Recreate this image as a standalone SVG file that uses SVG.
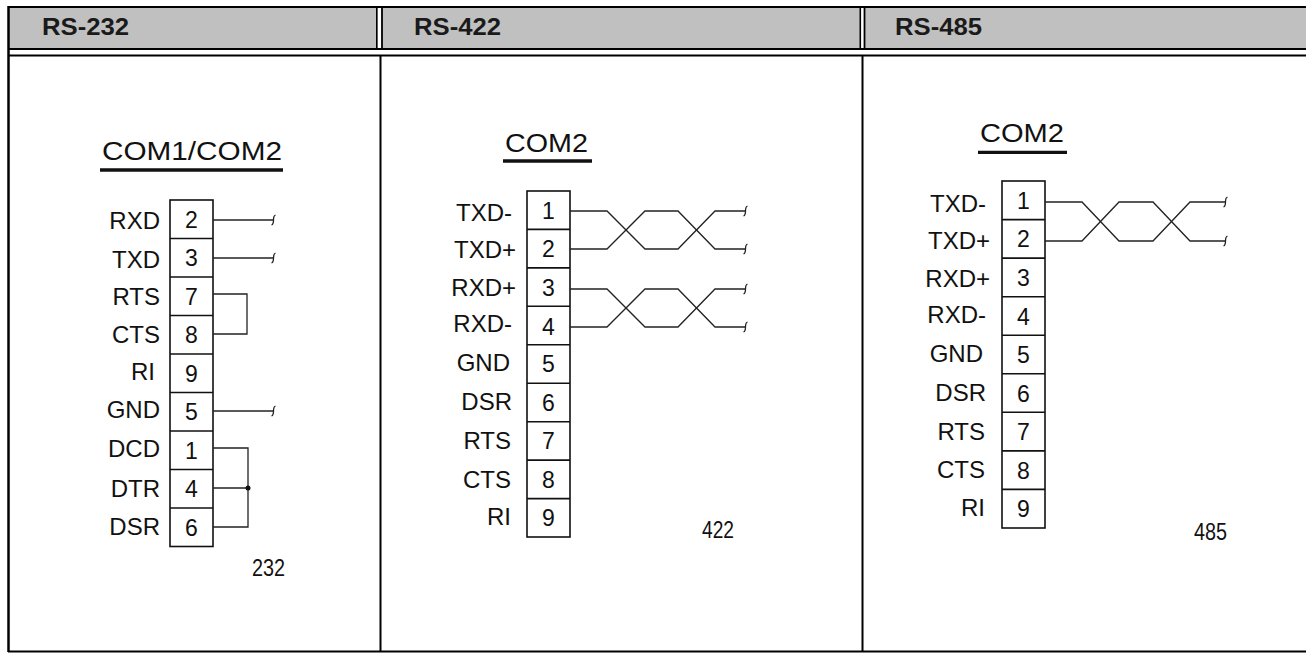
<svg xmlns="http://www.w3.org/2000/svg" xmlns:xlink="http://www.w3.org/1999/xlink" width="1306" height="653" viewBox="0 0 1306 653">
<style>
.hdr{font-family:"Liberation Sans",Arial,sans-serif;font-weight:bold;font-size:24px;fill:#1a1a1a}
.lbl{font-family:"Liberation Sans",Arial,sans-serif;font-size:24px;fill:#111;text-anchor:end}
.num{font-family:"Liberation Sans",Arial,sans-serif;font-size:23px;fill:#111;text-anchor:middle}
.ttl{font-family:"Liberation Sans",Arial,sans-serif;font-size:26px;fill:#111}
.tag{font-family:"Liberation Sans",Arial,sans-serif;font-size:23px;fill:#111}
.frame{stroke:#000;fill:none}
.box{fill:#fff;stroke:#111;stroke-width:1.6}
.sep{stroke:#111;stroke-width:1.6}
.wire{fill:none;stroke:#222;stroke-width:1.3}
.uline{stroke:#111;stroke-width:3.3}
</style>
<defs>
<path id="tick" d="M-1.5,5 C0,4.5 0.5,2 0.5,0 C0.5,-2 1,-4.5 2.5,-5" fill="none" stroke="#222" stroke-width="1.3"/>
</defs>
<rect x="0" y="0" width="1306" height="653" fill="#fff"/>
<g id="table">
<rect x="9" y="8" width="1297" height="40" fill="#c0c0c0"/>
<rect x="377.5" y="8" width="4" height="40" fill="#fff"/>
<rect x="861" y="8" width="3" height="40" fill="#fff"/>
<line class="frame" x1="8" y1="7" x2="1306" y2="7" stroke-width="2"/>
<line class="frame" x1="8.5" y1="6" x2="8.5" y2="652" stroke-width="2.5"/>
<line class="frame" x1="8" y1="49" x2="1306" y2="49" stroke-width="2.2"/>
<line class="frame" x1="8" y1="55.5" x2="1306" y2="55.5" stroke-width="2.2"/>
<line class="frame" x1="376.8" y1="7" x2="376.8" y2="49" stroke-width="1.6"/>
<line class="frame" x1="382" y1="7" x2="382" y2="49" stroke-width="1.8"/>
<line class="frame" x1="860.3" y1="7" x2="860.3" y2="49" stroke-width="1.6"/>
<line class="frame" x1="864.5" y1="7" x2="864.5" y2="49" stroke-width="1.8"/>
<line class="frame" x1="380.5" y1="55" x2="380.5" y2="652" stroke-width="2"/>
<line class="frame" x1="862.5" y1="55" x2="862.5" y2="652" stroke-width="2"/>
<line class="frame" x1="8" y1="651.5" x2="1306" y2="651.5" stroke-width="2"/>
<text class="hdr" x="42" y="35" textLength="87" lengthAdjust="spacingAndGlyphs">RS-232</text>
<text class="hdr" x="414" y="35" textLength="87" lengthAdjust="spacingAndGlyphs">RS-422</text>
<text class="hdr" x="895" y="35" textLength="87" lengthAdjust="spacingAndGlyphs">RS-485</text>
</g>

<g id="rs232">
<text class="ttl" x="102" y="160" textLength="180" lengthAdjust="spacingAndGlyphs">COM1/COM2</text>
<line class="uline" x1="100" y1="170" x2="283" y2="170"/>
<rect class="box" x="170" y="200" width="43" height="346.5"/>
<line class="sep" x1="170" y1="238.5" x2="213" y2="238.5"/>
<line class="sep" x1="170" y1="277" x2="213" y2="277"/>
<line class="sep" x1="170" y1="315.5" x2="213" y2="315.5"/>
<line class="sep" x1="170" y1="354" x2="213" y2="354"/>
<line class="sep" x1="170" y1="392.5" x2="213" y2="392.5"/>
<line class="sep" x1="170" y1="431" x2="213" y2="431"/>
<line class="sep" x1="170" y1="469.5" x2="213" y2="469.5"/>
<line class="sep" x1="170" y1="508" x2="213" y2="508"/>
<g id="p232-rxd"><text class="lbl" x="160" y="229">RXD</text><text class="num" x="191.5" y="228">2</text></g>
<g id="p232-txd"><text class="lbl" x="160" y="268">TXD</text><text class="num" x="191.5" y="266">3</text></g>
<g id="p232-rts"><text class="lbl" x="160" y="305">RTS</text><text class="num" x="191.5" y="305">7</text></g>
<g id="p232-cts"><text class="lbl" x="160" y="343">CTS</text><text class="num" x="191.5" y="343">8</text></g>
<g id="p232-ri"><text class="lbl" x="155" y="380">RI</text><text class="num" x="191.5" y="382">9</text></g>
<g id="p232-gnd"><text class="lbl" x="160" y="418">GND</text><text class="num" x="191.5" y="420">5</text></g>
<g id="p232-dcd"><text class="lbl" x="160" y="457">DCD</text><text class="num" x="191.5" y="459">1</text></g>
<g id="p232-dtr"><text class="lbl" x="160" y="497">DTR</text><text class="num" x="191.5" y="497">4</text></g>
<g id="p232-dsr"><text class="lbl" x="160" y="535">DSR</text><text class="num" x="191.5" y="536">6</text></g>
<text class="tag" x="252" y="576" textLength="33" lengthAdjust="spacingAndGlyphs">232</text>
</g>

<g id="rs422">
<text class="ttl" x="505" y="152" textLength="83" lengthAdjust="spacingAndGlyphs">COM2</text>
<line class="uline" x1="503" y1="161" x2="592" y2="161"/>
<rect class="box" x="527" y="191" width="43" height="346"/>
<line class="sep" x1="527" y1="229.4" x2="570" y2="229.4"/>
<line class="sep" x1="527" y1="267.9" x2="570" y2="267.9"/>
<line class="sep" x1="527" y1="306.3" x2="570" y2="306.3"/>
<line class="sep" x1="527" y1="344.8" x2="570" y2="344.8"/>
<line class="sep" x1="527" y1="383.2" x2="570" y2="383.2"/>
<line class="sep" x1="527" y1="421.7" x2="570" y2="421.7"/>
<line class="sep" x1="527" y1="460.1" x2="570" y2="460.1"/>
<line class="sep" x1="527" y1="498.6" x2="570" y2="498.6"/>
<g id="p422-1"><text class="lbl" x="512" y="221">TXD-</text><text class="num" x="548.5" y="219">1</text></g>
<g id="p422-2"><text class="lbl" x="516" y="258">TXD+</text><text class="num" x="548.5" y="257">2</text></g>
<g id="p422-3"><text class="lbl" x="516" y="296">RXD+</text><text class="num" x="548.5" y="296">3</text></g>
<g id="p422-4"><text class="lbl" x="512" y="332">RXD-</text><text class="num" x="548.5" y="335">4</text></g>
<g id="p422-5"><text class="lbl" x="510" y="371">GND</text><text class="num" x="548.5" y="372">5</text></g>
<g id="p422-6"><text class="lbl" x="512" y="410">DSR</text><text class="num" x="548.5" y="411">6</text></g>
<g id="p422-7"><text class="lbl" x="511" y="449">RTS</text><text class="num" x="548.5" y="449">7</text></g>
<g id="p422-8"><text class="lbl" x="511" y="488">CTS</text><text class="num" x="548.5" y="488">8</text></g>
<g id="p422-9"><text class="lbl" x="511" y="525">RI</text><text class="num" x="548.5" y="526">9</text></g>
<text class="tag" x="702" y="538" textLength="32" lengthAdjust="spacingAndGlyphs">422</text>
</g>

<g id="rs485">
<text class="ttl" x="980" y="142" textLength="84" lengthAdjust="spacingAndGlyphs">COM2</text>
<line class="uline" x1="978" y1="152.3" x2="1067" y2="152.3"/>
<rect class="box" x="1002" y="181" width="43" height="347"/>
<line class="sep" x1="1002" y1="219.6" x2="1045" y2="219.6"/>
<line class="sep" x1="1002" y1="258.1" x2="1045" y2="258.1"/>
<line class="sep" x1="1002" y1="296.7" x2="1045" y2="296.7"/>
<line class="sep" x1="1002" y1="335.2" x2="1045" y2="335.2"/>
<line class="sep" x1="1002" y1="373.8" x2="1045" y2="373.8"/>
<line class="sep" x1="1002" y1="412.3" x2="1045" y2="412.3"/>
<line class="sep" x1="1002" y1="450.9" x2="1045" y2="450.9"/>
<line class="sep" x1="1002" y1="489.4" x2="1045" y2="489.4"/>
<g id="p485-1"><text class="lbl" x="986" y="212">TXD-</text><text class="num" x="1023.5" y="209">1</text></g>
<g id="p485-2"><text class="lbl" x="990" y="249">TXD+</text><text class="num" x="1023.5" y="247">2</text></g>
<g id="p485-3"><text class="lbl" x="990" y="287">RXD+</text><text class="num" x="1023.5" y="286">3</text></g>
<g id="p485-4"><text class="lbl" x="986" y="323">RXD-</text><text class="num" x="1023.5" y="325">4</text></g>
<g id="p485-5"><text class="lbl" x="983" y="362">GND</text><text class="num" x="1023.5" y="363">5</text></g>
<g id="p485-6"><text class="lbl" x="986" y="401">DSR</text><text class="num" x="1023.5" y="402">6</text></g>
<g id="p485-7"><text class="lbl" x="985" y="440">RTS</text><text class="num" x="1023.5" y="440">7</text></g>
<g id="p485-8"><text class="lbl" x="985" y="478">CTS</text><text class="num" x="1023.5" y="479">8</text></g>
<g id="p485-9"><text class="lbl" x="985" y="516">RI</text><text class="num" x="1023.5" y="517">9</text></g>
<text class="tag" x="1194" y="540" textLength="33" lengthAdjust="spacingAndGlyphs">485</text>
</g>

<g id="connectors">
<path class="wire" d="M213,220 H273"/>
<use xlink:href="#tick" x="273" y="220"/>
<path class="wire" d="M213,258 H273"/>
<use xlink:href="#tick" x="273" y="258"/>
<path class="wire" d="M213,294 H247 V334 H213"/>
<path class="wire" d="M213,411 H273"/>
<use xlink:href="#tick" x="273" y="411"/>
<path class="wire" d="M213,448 H248 V527 H213"/>
<path class="wire" d="M213,488 H248"/>
<circle cx="248" cy="488" r="2.5" fill="#111"/>

<path class="wire" d="M570,211 H607 L645,249 H678 L715,211 H745"/>
<path class="wire" d="M570,249 H607 L645,211 H678 L715,249 H745"/>
<use xlink:href="#tick" x="745" y="211"/>
<use xlink:href="#tick" x="745" y="249"/>
<path class="wire" d="M570,289 H607 L645,327 H678 L715,289 H745"/>
<path class="wire" d="M570,327 H607 L645,289 H678 L715,327 H745"/>
<use xlink:href="#tick" x="745" y="289"/>
<use xlink:href="#tick" x="745" y="327"/>

<path class="wire" d="M1045,202 H1082 L1119,241 H1153 L1190,202 H1225"/>
<path class="wire" d="M1045,241 H1082 L1119,202 H1153 L1190,241 H1225"/>
<use xlink:href="#tick" x="1225" y="202"/>
<use xlink:href="#tick" x="1225" y="241"/>
</g>
</svg>
